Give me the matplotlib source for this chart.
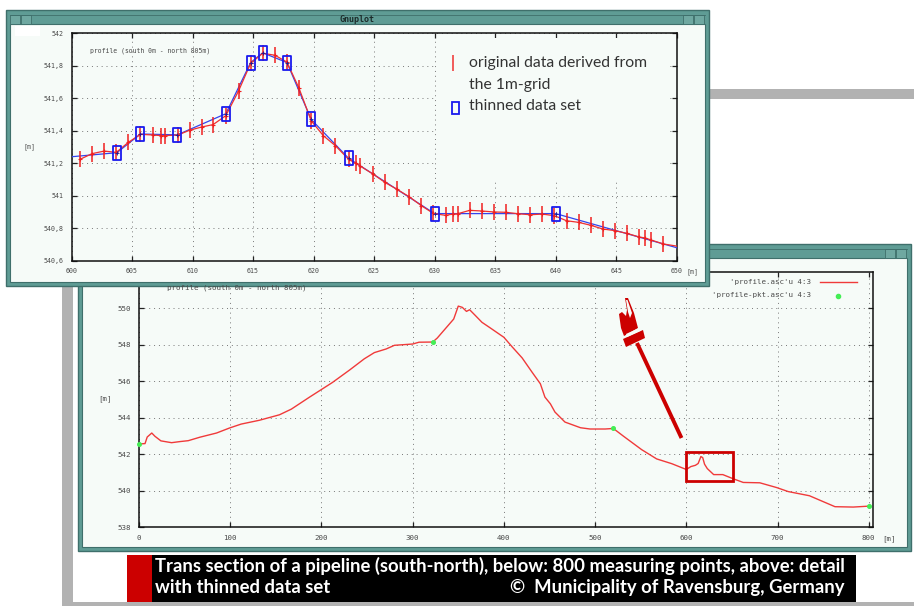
import matplotlib
matplotlib.use("Agg")
import matplotlib.pyplot as plt
from matplotlib.patches import Rectangle, Polygon
from matplotlib.path import Path

W, H = 914, 606

# detail plot, original 1m-grid points
orig_x = [600.7, 601.7, 602.7, 603.7, 604.7, 605.7, 606.7, 607.4, 607.7, 608.8, 609.75, 610.75, 611.7,
          612.75, 613.8, 614.8, 615.8, 616.8, 617.8, 618.8, 619.8, 620.8, 621.8, 622.9, 623.5, 623.8,
          624.9, 625.9, 626.9, 627.9, 628.9, 629.9, 630.9, 631.5, 631.9, 632.9, 633.9, 634.9, 635.9,
          636.9, 637.9, 638.9, 639.9, 640.9, 641.9, 642.9, 643.9, 644.9, 645.9, 646.9, 647.4, 647.9, 648.9]
orig_y = [541.224, 541.259, 541.275, 541.267, 541.329, 541.378, 541.374, 541.370, 541.370, 541.374, 541.403,
          541.423, 541.438, 541.493, 541.645, 541.815, 541.877, 541.865, 541.823, 541.661, 541.462, 541.370,
          541.308, 541.224, 541.199, 541.185, 541.134, 541.082, 541.039, 540.994, 540.939, 540.891, 540.879,
          540.887, 540.889, 540.910, 540.906, 540.900, 540.898, 540.889, 540.883, 540.887, 540.877, 540.846,
          540.836, 540.818, 540.795, 540.785, 540.768, 540.746, 540.740, 540.727, 540.703]
orig_end_x = [650]
orig_end_y = [540.69]

# thinned data set
thin_line_x = [600, 603.75, 605.7, 608.75, 612.75, 614.8, 615.8, 617.8, 619.8, 622.9, 630, 640, 650]
thin_line_y = [541.24, 541.265, 541.38, 541.375, 541.505, 541.82, 541.88, 541.82, 541.47, 541.23, 540.89, 540.89, 540.68]

# whole profile, 800 measuring points
prof_x = [0, 6.6, 9, 14, 17.5, 24, 35.7, 44.8, 54, 66.7, 85, 99.5, 112, 132, 154, 167, 187, 212, 231, 247, 258,
          271, 280, 300, 307, 322, 327, 345, 350, 354.5, 359, 362.5, 369, 376, 384, 400, 409, 420, 431, 440,
          445, 451, 456, 467, 484, 494.5, 511, 520, 531, 551, 567.5, 584, 600, 605, 610, 613, 616, 618, 620,
          623, 630, 640, 651.5, 662.4, 680.6, 699, 711.7, 735, 763, 783, 800]
prof_y = [542.57, 542.59, 542.95, 543.17, 542.99, 542.74, 542.64, 542.70, 542.75, 542.94, 543.17, 543.45, 543.66,
          543.87, 544.17, 544.48, 545.14, 545.94, 546.63, 547.24, 547.58, 547.78, 547.98, 548.05, 548.15, 548.16,
          548.38, 549.42, 550.13, 550.06, 549.84, 549.93, 549.6, 549.24, 548.97, 548.42, 547.9, 547.29, 546.5,
          545.87, 545.14, 544.77, 544.32, 543.77, 543.46, 543.39, 543.39, 543.42, 543.0, 542.26, 541.75, 541.49,
          541.17, 541.33, 541.4, 541.5, 541.88, 541.82, 541.46, 541.22, 540.89, 540.89, 540.66, 540.46, 540.44,
          540.18, 539.96, 539.73, 539.13, 539.11, 539.16]
pkt_x = [0, 322, 520, 800]
pkt_y = [542.57, 548.16, 543.42, 539.16]

top_xticks = [600, 605, 610, 615, 620, 625, 630, 635, 640, 645, 650]
top_yticks = [540.6, 540.8, 541, 541.2, 541.4, 541.6, 541.8, 542]
top_ylabels = ["540,6", "540,8", "541", "541,2", "541,4", "541,6", "541,8", "542"]
low_xticks = [0, 100, 200, 300, 400, 500, 600, 700, 800]
low_yticks = [538, 540, 542, 544, 546, 548, 550]

TEAL = "#5f9c95"
DARK = "#3f6f6b"
PANEL = "#f6fbf8"
GRID = "#777777"
LABEL = "#4a4a4a"
GREY = "#b2b2b2"
RED = "#cc0000"
MONO = "DejaVu Sans Mono"


def px_axes(fig, x0, y0, x1, y1, z):
    # pixel box (y from the top) to a figure axes
    return fig.add_axes([x0 / W, 1 - y1 / H, (x1 - x0) / W, (y1 - y0) / H], zorder=z)


def draw_window(ov, x0, y0, x1, y1, title=None):
    ov.add_patch(Rectangle((x0, y0), x1 - x0, y1 - y0, fc=TEAL, ec=DARK, lw=1))
    ov.add_patch(Rectangle((x0 + 4, y0 + 14), x1 - x0 - 8, y1 - y0 - 18, fc=PANEL, ec=DARK, lw=0.8))
    ov.plot([x0 + 4, x1 - 4], [y0 + 5, y0 + 5], color=DARK, lw=0.6)
    for bx in [x0 + 4, x0 + 15, x1 - 26, x1 - 15]:
        ov.add_patch(Rectangle((bx, y0 + 5), 10, 9, fc="#6fa8a1", ec=DARK, lw=0.6))
    if title:
        ov.text((x0 + x1) / 2, y0 + 9.5, title, family=MONO, weight="bold", fontsize=6,
                color="#1c2b2a", ha="center", va="center")


def style_axes(ax, xticks, yticks, ylabels, xlim, ylim, size):
    ax.set_facecolor(PANEL)
    ax.set_xlim(*xlim)
    ax.set_ylim(*ylim)
    ax.set_xticks(xticks)
    ax.set_yticks(yticks)
    ax.set_xticklabels([str(t) for t in xticks], family=MONO, fontsize=size, color=LABEL)
    ax.set_yticklabels(ylabels, family=MONO, fontsize=size, color=LABEL)
    ax.tick_params(direction="in", length=3.5, width=0.9, color="#222222", top=True, right=True, pad=5.5)
    ax.grid(True, linestyle=(0, (1, 4)), linewidth=0.7, color=GRID)
    ax.set_axisbelow(True)
    for s in ax.spines.values():
        s.set_linewidth(1.1)
        s.set_color("#111111")


fig = plt.figure(figsize=(W / 100, H / 100), dpi=100, facecolor="white")

# page background, window frames
bg = px_axes(fig, 0, 0, W, H, 0)
bg.set_xlim(0, W)
bg.set_ylim(H, 0)
bg.axis("off")
bg.add_patch(Rectangle((62, 90), 11, 516, fc=GREY, ec="none"))
bg.add_patch(Rectangle((62, 601.5), W - 62, 5, fc=GREY, ec="none"))
bg.add_patch(Rectangle((700, 88.5), W - 700, 10.5, fc=GREY, ec="none"))
draw_window(bg, 78, 244, 911, 551)
bg.add_patch(Rectangle((127, 554.5), 25, 47, fc=RED, ec="none"))
bg.add_patch(Rectangle((152, 554.5), 704, 47, fc="black", ec="none"))
bg.text(155, 566, "Trans section of a pipeline (south-north), below: 800 measuring points, above: detail",
        family="Lato", weight="bold", fontsize=13.3, color="white", va="center")
bg.text(155, 587.5, "with thinned data set", family="Lato", weight="bold", fontsize=13.3, color="white", va="center")
bg.text(845, 587.5, "©  Municipality of Ravensburg, Germany", family="Lato", weight="bold", fontsize=13.3,
        color="white", va="center", ha="right")

# lower plot, whole profile
low = px_axes(fig, 139, 272, 873.3, 527.3, 1)
style_axes(low, low_xticks, low_yticks, [str(t) for t in low_yticks], (0, 805), (538, 552), 5.4)
low.plot(prof_x, prof_y, color="#f03a3a", lw=1.0, clip_on=False)
low.plot(pkt_x, pkt_y, ls="none", marker="o", ms=2.6, color="#44ee55", clip_on=False, zorder=5)

# annotation layer on the lower plot, and the upper window
ov = px_axes(fig, 0, 0, W, H, 2)
ov.set_xlim(0, W)
ov.set_ylim(H, 0)
ov.axis("off")
ov.patch.set_alpha(0)
ov.text(882, 539, "[m]", family=MONO, fontsize=5.4, color=LABEL, va="center")
ov.text(105, 398.5, "[m]", family=MONO, fontsize=5.4, color=LABEL, va="center", ha="center")
ov.text(811.5, 282, "'profile.asc'u 4:3", family=MONO, fontsize=5.4, color=LABEL, ha="right", va="center")
ov.text(811.5, 295, "'profile-pkt.asc'u 4:3", family=MONO, fontsize=5.4, color=LABEL, ha="right", va="center")
ov.plot([820, 857], [282, 282], color="#f03a3a", lw=1.0)
ov.plot([838], [295.5], marker="o", ms=3, color="#44ee55", ls="none")
ov.text(167, 288, "profile (south 0m - north 805m)", family=MONO, fontsize=5.4, color=LABEL, va="center")
ov.add_patch(Rectangle((686, 452), 47, 29, fc="none", ec=RED, lw=2))
ov.plot([681.5, 637], [438, 343], color=RED, lw=2.8, solid_capstyle="butt")
# pointing hand
ov.add_patch(Polygon([(623, 339), (643, 330), (645, 338), (626, 347)], fc=RED, ec="none"))
ov.add_patch(Polygon([(625, 298), (628, 298), (634, 313), (638, 328), (624, 336), (621, 328), (619, 314),
                      (622, 312), (626, 316), (627, 310)], fc=RED, ec="none"))
ov.add_patch(Polygon([(626, 300), (627.5, 300), (632, 313), (630, 318), (628, 312)], fc=PANEL, ec="none"))
ov.add_patch(Polygon([(626, 334), (639, 328), (640, 331), (627, 337)], fc=PANEL, ec="none"))
draw_window(ov, 6, 10, 708.5, 286, "Gnuplot")
ov.add_patch(Rectangle((15, 26), 25, 10, fc="white", ec="none"))

# upper plot, detail 600-650 m
top = px_axes(fig, 71.5, 33.3, 676.7, 260.7, 3)
style_axes(top, top_xticks, top_yticks, top_ylabels, (600, 650), (540.6, 542), 4.8)
top.add_patch(Rectangle((437, 38), 232, 142, fc=PANEL, ec="none", zorder=1, transform=ov.transData))
top.plot(thin_line_x, thin_line_y, color="#3344ee", lw=0.9, zorder=3)
top.plot(orig_x + orig_end_x, orig_y + orig_end_y, color="#f03030", lw=0.9, zorder=4)
top.plot(orig_x, orig_y, ls="none", marker="|", ms=11, mew=1.1, color="#f02020", zorder=5)
top.plot(orig_x, orig_y, ls="none", marker="+", ms=3.5, mew=0.8, color="#f02020", zorder=5)
box = Path([(-0.6, -1), (0.6, -1), (0.6, 1), (-0.6, 1), (-0.6, -1)], closed=True)
top.plot(thin_line_x[1:-1], thin_line_y[1:-1], ls="none", marker=box, ms=9.5, mew=1.3, mfc="none", mec="#1a1aee", zorder=6)
top.plot(thin_line_x[1:-1], thin_line_y[1:-1], ls="none", marker="+", ms=3, mew=0.6, color="#1a1a99", zorder=6)
top.text(89.5, 50.5, "profile (south 0m - north 805m)", family=MONO, fontsize=4.7, color=LABEL, va="center",
         transform=ov.transData)
top.text(29.5, 146.5, "[m]", family=MONO, fontsize=4.8, color=LABEL, ha="center", va="center", transform=ov.transData)
top.text(692.5, 271.5, "[m]", family=MONO, fontsize=4.8, color=LABEL, ha="center", va="center", transform=ov.transData,
         clip_on=False)
top.text(469, 63, "original data derived from", family="Lato", fontsize=11.3, color="#333333", va="center",
         transform=ov.transData)
top.text(469, 84.5, "the 1m-grid", family="Lato", fontsize=11.3, color="#333333", va="center",
         transform=ov.transData)
top.text(469, 105.5, "thinned data set", family="Lato", fontsize=11.3, color="#333333", va="center",
         transform=ov.transData)
top.plot([453], [63], marker="|", ms=11, mew=1.2, color="#f04040", transform=ov.transData, clip_on=False)
top.add_patch(Rectangle((451.5, 102), 7.5, 12, fc="none", ec="#1a1aee", lw=1.3, transform=ov.transData))

fig.savefig("out.png", dpi=100)
